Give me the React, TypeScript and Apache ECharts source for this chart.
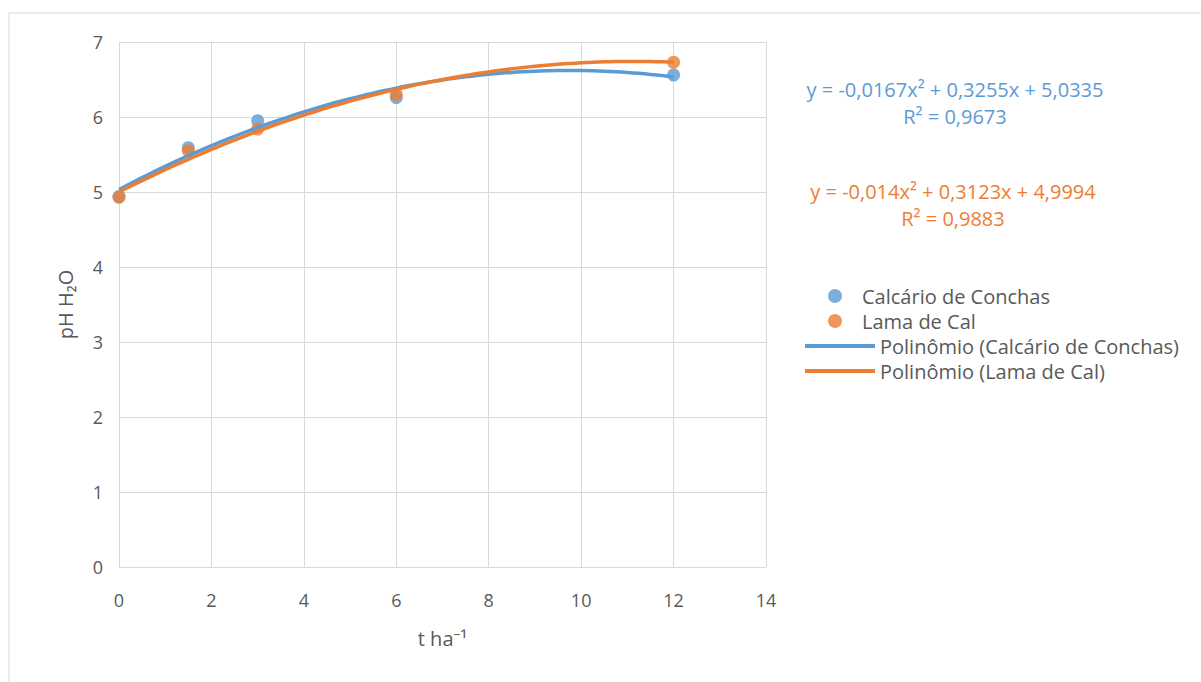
import React, { useEffect, useRef } from "react";
import * as echarts from "echarts";

const doses = [0, 1.5, 3, 6, 12];
const calcarioPH = [4.94, 5.59, 5.95, 6.26, 6.56];
const lamaPH = [4.93, 5.55, 5.84, 6.30, 6.73];
// trendline coefficients [a2, a1, a0] as printed in the chart
const calcarioCoef = [-0.0167, 0.3255, 5.0335];
const lamaCoef = [-0.014, 0.3123, 4.9994];
const calcarioEq = ["y = -0,0167x² + 0,3255x + 5,0335", "R² = 0,9673"];
const lamaEq = ["y = -0,014x² + 0,3123x + 4,9994", "R² = 0,9883"];
const seriesNames = ["Calcário de Conchas", "Lama de Cal", "Polinômio (Calcário de Conchas)", "Polinômio (Lama de Cal)"];

const BLUE = "#5B9BD5";
const ORANGE = "#ED7D31";
const TEXT = "#595959";
const FONT = "'Open Sans', 'Noto Sans', sans-serif";
const FS = 20;

function trend(coef: number[], xs: number[]) {
  return xs.map((x) => [x, coef[0] * x * x + coef[1] * x + coef[2]]);
}

export default function App() {
  const ref = useRef<HTMLDivElement>(null);
  useEffect(() => {
    if (!ref.current) return;
    const chart = echarts.init(ref.current, null, { renderer: "svg" });
    const xs: number[] = [];
    const xmax = doses[doses.length - 1];
    for (let i = 0; i <= 48; i++) xs.push((xmax * i) / 48);
    chart.setOption({
      animation: false,
      backgroundColor: "#fff",
      textStyle: { fontFamily: FONT },
      grid: { left: 119, top: 42, right: 435, bottom: 115 },
      xAxis: {
        type: "value", min: 0, max: 14, interval: 2,
        axisLine: { show: true, lineStyle: { color: "#D9D9D9" } },
        axisTick: { show: false },
        splitLine: { show: true, lineStyle: { color: "#D9D9D9" } },
        axisLabel: { color: TEXT, fontSize: 18, margin: 24, fontFamily: FONT },
        name: "t ha⁻¹", nameLocation: "middle", nameGap: 61,
        nameTextStyle: { color: TEXT, fontSize: FS, fontFamily: FONT },
      },
      yAxis: {
        type: "value", min: 0, max: 7, interval: 1,
        axisLine: { show: false },
        axisTick: { show: false },
        splitLine: { show: true, lineStyle: { color: "#D9D9D9" } },
        axisLabel: { color: TEXT, fontSize: 18, margin: 16, fontFamily: FONT },
        name: "pH H₂O", nameLocation: "middle", nameGap: 44, nameRotate: 90,
        nameTextStyle: { color: TEXT, fontSize: FS, fontFamily: FONT },
      },
      legend: [
        {
          orient: "vertical", left: 823, top: 281, itemGap: 5,
          itemWidth: 14, itemHeight: 14, icon: "circle",
          textStyle: { color: TEXT, fontSize: FS, fontFamily: FONT, padding: [0, 0, 0, 15] },
          data: [seriesNames[0], seriesNames[1]],
        },
        {
          orient: "vertical", left: 800, top: 331, itemGap: 5,
          itemWidth: 70, itemHeight: 4, icon: "rect",
          textStyle: { color: TEXT, fontSize: FS, fontFamily: FONT },
          data: [seriesNames[2], seriesNames[3]],
        },
      ],
      graphic: [
        { type: "text", x: 955, y: 76, style: { text: calcarioEq[0] + "\n" + calcarioEq[1], fill: BLUE, font: `${FS}px ${FONT}`, lineHeight: 27, textAlign: "center" } },
        { type: "text", x: 953, y: 178, style: { text: lamaEq[0] + "\n" + lamaEq[1], fill: ORANGE, font: `${FS}px ${FONT}`, lineHeight: 27, textAlign: "center" } },
        { type: "rect", shape: { x: 9, y: 13, width: 1250, height: 720 }, style: { fill: "none", stroke: "#D9D9D9", lineWidth: 1 }, silent: true },
      ],
      series: [
        { name: seriesNames[2], type: "line", data: trend(calcarioCoef, xs), smooth: true, showSymbol: false, symbol: "none", lineStyle: { color: BLUE, width: 3.5 }, itemStyle: { color: BLUE }, z: 2 },
        { name: seriesNames[3], type: "line", data: trend(lamaCoef, xs), smooth: true, showSymbol: false, symbol: "none", lineStyle: { color: ORANGE, width: 3.5 }, itemStyle: { color: ORANGE }, z: 3 },
        { name: seriesNames[0], type: "scatter", data: doses.map((d, i) => [d, calcarioPH[i]]), symbolSize: 13, itemStyle: { color: BLUE }, z: 1 },
        { name: seriesNames[1], type: "scatter", data: doses.map((d, i) => [d, lamaPH[i]]), symbolSize: 13, itemStyle: { color: ORANGE }, z: 1 },
      ],
    });
    return () => chart.dispose();
  }, []);
  return <div ref={ref} style={{ position: "fixed", left: 0, top: 0, width: 1201, height: 682 }} />;
}
